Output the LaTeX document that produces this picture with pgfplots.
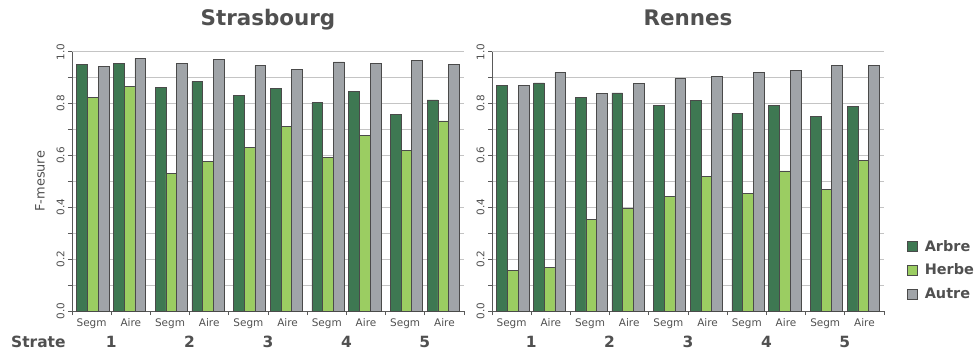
\documentclass[border=0pt]{standalone}
\usepackage{pgfplots}
\usepackage{pgfplotstable}
\pgfplotsset{compat=1.18}
\usepackage{fontspec}
\setmainfont{DejaVu Sans}
\definecolor{arbre}{HTML}{3E7852}
\definecolor{herbe}{HTML}{9BCD62}
\definecolor{autre}{HTML}{A0A4A8}
\definecolor{edgec}{HTML}{4A4A4A}
\definecolor{textg}{HTML}{505050}
\definecolor{gridg}{HTML}{C4C4C4}
\definecolor{axisg}{HTML}{5A5A5A}

\pgfplotstableread{
x Arbre Herbe Autre
0.03 0.952 0.824 0.943
0.97 0.956 0.866 0.974
2.03 0.862 0.531 0.955
2.97 0.886 0.577 0.969
4.03 0.833 0.630 0.946
4.97 0.859 0.713 0.933
6.03 0.803 0.593 0.961
6.97 0.848 0.677 0.954
8.03 0.757 0.618 0.967
8.97 0.814 0.733 0.952
}\strasbourg

\pgfplotstableread{
x Arbre Herbe Autre
0.03 0.869 0.158 0.869
0.97 0.880 0.168 0.920
2.03 0.825 0.352 0.839
2.97 0.841 0.396 0.877
4.03 0.793 0.442 0.897
4.97 0.812 0.519 0.905
6.03 0.761 0.455 0.920
6.97 0.793 0.540 0.927
8.03 0.752 0.469 0.946
8.97 0.788 0.582 0.946
}\rennes

\tikzset{numstyle/.style={anchor=base, font=\bfseries\fontsize{15.5}{18}\selectfont, text=textg, yshift=-36.3bp}}

\pgfplotsset{
  mybars/.style={
    width=392bp, height=259.3bp, scale only axis,
    ybar=0pt, bar width=10.7bp,
    xmin=-0.5, xmax=9.5, ymin=0, ymax=1,
    clip=false,
    axis x line*=bottom, axis y line*=left,
    axis line style={draw=axisg, line width=0.8bp, -},
    xtick={0,1,2,3,4,5,6,7,8,9},
    xticklabels={Segm,Aire,Segm,Aire,Segm,Aire,Segm,Aire,Segm,Aire},
    minor xtick={-0.5,0.5,1.5,2.5,3.5,4.5,5.5,6.5,7.5,8.5,9.5},
    major x tick style={draw=none},
    ytick={0,0.2,0.4,0.6,0.8,1.0},
    minor ytick={0.1,0.3,0.5,0.7,0.9},
    tick align=outside,
    major tick length=4bp, minor tick length=4bp,
    every tick/.style={draw=axisg, line width=0.8bp},
    ymajorgrids, yminorgrids,
    major grid style={draw=gridg, line width=0.8bp},
    minor grid style={draw=gridg, line width=0.8bp},
    x tick label style={font=\fontsize{10.5}{12}\selectfont, text=textg},
    y tick label style={font=\fontsize{10.5}{12}\selectfont, text=textg, rotate=90, anchor=south},
    yticklabel style={/pgf/number format/.cd, fixed, fixed zerofill, precision=1, assume math mode=true},
    title style={font=\bfseries\fontsize{21.5}{25}\selectfont, text=textg, at={(0.5,1)}, anchor=base, yshift=20bp},
    every axis plot/.append style={draw=edgec, line width=0.6bp},
  },
  sqlegend/.style={legend image code/.code={\draw[##1] (0bp,-5bp) rectangle (10bp,5bp);}},
}

\newcommand{\stratanums}{%
  \node[numstyle] at (axis cs:0.5,0) {1};
  \node[numstyle] at (axis cs:2.5,0) {2};
  \node[numstyle] at (axis cs:4.5,0) {3};
  \node[numstyle] at (axis cs:6.5,0) {4};
  \node[numstyle] at (axis cs:8.5,0) {5};
}

\begin{document}
\begin{tikzpicture}
\useasboundingbox (0,0) rectangle (979bp,353bp);

\begin{axis}[mybars, at={(72bp,42bp)}, anchor=south west,
  title={Strasbourg},
  ylabel={F-mesure},
  ylabel style={font=\fontsize{13}{15}\selectfont, text=textg, at={(axis description cs:-0.0816,0.5)}, anchor=center}]
\addplot[fill=arbre] table[x=x, y=Arbre] {\strasbourg};
\addplot[fill=herbe] table[x=x, y=Herbe] {\strasbourg};
\addplot[fill=autre] table[x=x, y=Autre] {\strasbourg};
\stratanums
\end{axis}

\begin{axis}[mybars, at={(492bp,42bp)}, anchor=south west,
  title={Rennes},
  legend style={draw=none, fill=none, at={(1.0587,0.158)}, anchor=west, inner sep=0pt,
    font=\bfseries\fontsize{14.5}{16}\selectfont, text=textg, row sep=7.5bp,
    /tikz/every odd column/.style={column sep=5bp}},
  legend cell align=left]
\addplot[fill=arbre, sqlegend] table[x=x, y=Arbre] {\rennes};
\addplot[fill=herbe, sqlegend] table[x=x, y=Herbe] {\rennes};
\addplot[fill=autre, sqlegend] table[x=x, y=Autre] {\rennes};
\legend{Arbre,Herbe,Autre}
\stratanums
\end{axis}

\node[anchor=base west, inner sep=0pt, font=\bfseries\fontsize{15.5}{18}\selectfont, text=textg] at (11bp,5.7bp) {Strate};
\end{tikzpicture}
\end{document}
